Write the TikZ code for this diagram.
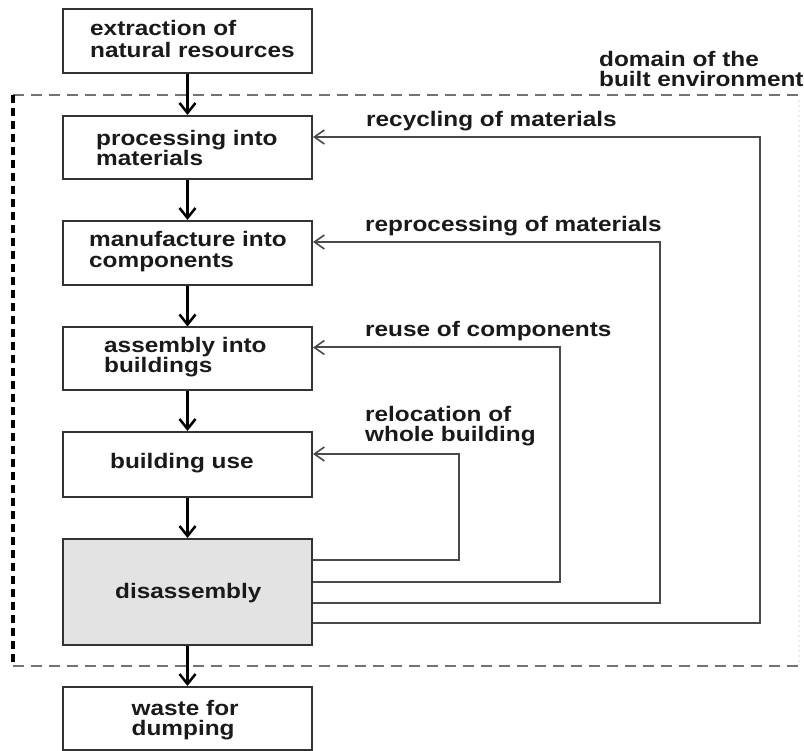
\documentclass[tikz,border=0pt]{standalone}
\usepackage{fontspec}
\newfontfamily\lab{Liberation Sans}[FakeStretch=1.16]
\usetikzlibrary{arrows.meta}
\definecolor{ink}{HTML}{1A1A1A}
\definecolor{edge}{HTML}{333333}
\definecolor{fb}{HTML}{4A4A4A}
\definecolor{shade}{HTML}{E3E3E3}
\begin{document}
\begin{tikzpicture}[x=1pt,y=-1pt,
  box/.style={draw=edge, line width=2pt, minimum width=249pt, inner sep=0pt, fill=white},
  txt/.style={font=\lab\bfseries\fontsize{21}{22}\selectfont, text=ink, anchor=base west, inner sep=0pt},
  flow/.style={draw=black, line width=3pt, -{Straight Barb[length=10pt,width=16pt,line width=2.5pt]}},
  back/.style={draw=fb, line width=2pt, -{Straight Barb[length=10pt,width=14pt,line width=1.6pt]}},
  domtop/.style={draw=black!55, line width=2.2pt, dash pattern=on 11pt off 7pt},
  domleft/.style={draw=black, line width=3.5pt, dash pattern=on 8pt off 5pt},
  domright/.style={draw=black!7, line width=1.5pt, dash pattern=on 2pt off 3pt}]
\useasboundingbox (0,0) rectangle (804,751);
\fill[white] (0,0) rectangle (804,751);

% domain of the built environment
\draw[domtop] (13,95) -- (806,95);
\draw[domtop] (13,666) -- (806,666);
\draw[domleft] (13,95) -- (13,666);
\draw[domright] (799,100) -- (799,662);
\node[txt] (dom1) at (599,67) {domain of the};
\node[txt] (dom2) at (599,87) {built environment};

% boxes
\node[box, minimum height=64pt] (ext) at (187.5,41) {};
\node[box, minimum height=63pt] (proc) at (187.5,147.5) {};
\node[box, minimum height=64pt] (manu) at (187.5,253) {};
\node[box, minimum height=63pt] (asm) at (187.5,359) {};
\node[box, minimum height=65pt] (use) at (187.5,464.5) {};
\node[box, minimum height=106pt, fill=shade] (dis) at (187.5,592) {};
\node[box, minimum height=63pt] (waste) at (187.5,718.5) {};

% box texts
\node[txt] (t1a) at (90,36) {extraction of};
\node[txt] (t1b) at (90,57.5) {natural resources};
\node[txt] (t2a) at (96,145.5) {processing into};
\node[txt] (t2b) at (96,166) {materials};
\node[txt] (t3a) at (89,247) {manufacture into};
\node[txt] (t3b) at (89,268) {components};
\node[txt] (t4a) at (104,353) {assembly into};
\node[txt] (t4b) at (104,373) {buildings};
\node[txt] (t5) at (110,468) {building use};
\node[txt] (t6) at (115,598) {disassembly};
\node[txt] (t7a) at (131.5,715) {waste for};
\node[txt] (t7b) at (131.5,735) {dumping};

% main flow
\draw[flow] (ext.south) -- (proc.north);
\draw[flow] (proc.south) -- (manu.north);
\draw[flow] (manu.south) -- (asm.north);
\draw[flow] (asm.south) -- (use.north);
\draw[flow] (use.south) -- (dis.north);
\draw[flow] (dis.south) -- (waste.north);

% feedback loops
\draw[back] (dis.east |- 0,560) -- (459,560) |- (use.east |- 0,454);
\draw[back] (dis.east |- 0,582) -- (560,582) |- (asm.east |- 0,347.5);
\draw[back] (dis.east |- 0,603) -- (660,603) |- (manu.east |- 0,242);
\draw[back] (dis.east |- 0,623) -- (760,623) |- (proc.east |- 0,137);

% feedback labels
\node[txt] (l1) at (366,127) {recycling of materials};
\node[txt] (l2) at (365,232) {reprocessing of materials};
\node[txt] (l3) at (365,337) {reuse of components};
\node[txt] (l4a) at (365,422) {relocation of};
\node[txt] (l4b) at (365,442) {whole building};
\end{tikzpicture}
\end{document}
